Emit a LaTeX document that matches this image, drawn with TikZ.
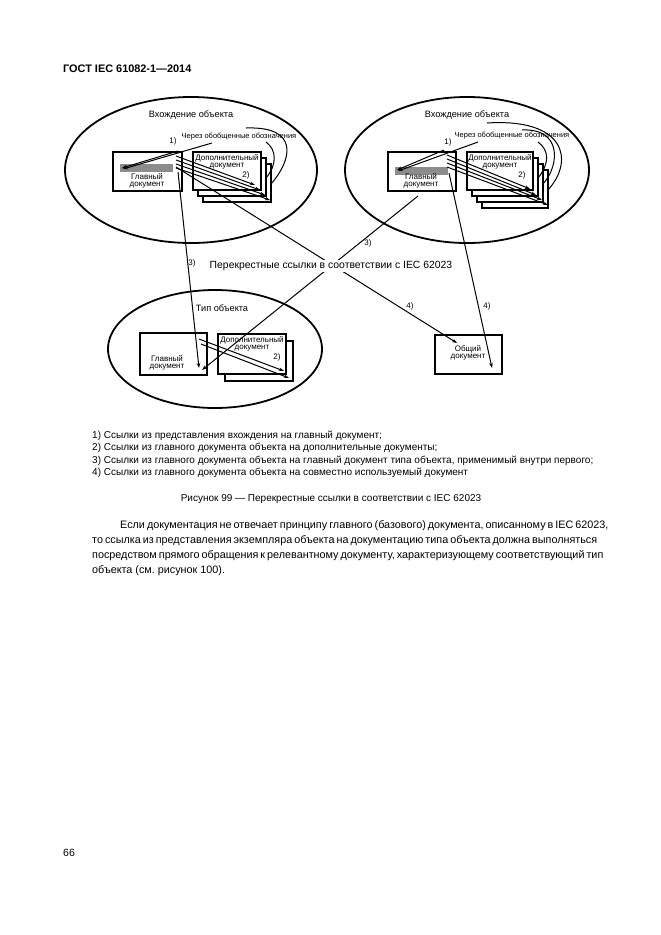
\documentclass[tikz,border=0pt]{standalone}
\usepackage{fontspec}
\setmainfont{Liberation Sans}
\usetikzlibrary{arrows.meta,shapes.geometric}
\frenchspacing
\begin{document}
\frenchspacing
\begin{tikzpicture}[x=1pt,y=-1pt,
  ell/.style={draw, ellipse, line width=1.8pt, inner sep=0pt},
  docbox/.style={draw, fill=white, line width=1.4pt},
  bar/.style={fill=black!45},
  lnk/.style={line width=1pt},
  arr/.style={lnk,-{Stealth[length=5pt,width=3.5pt]}},
  crv/.style={line width=1pt},
  lbl/.style={font=\fontsize{8}{8.5}\selectfont, inner sep=0pt, align=center},
  tlbl/.style={font=\fontsize{9.2}{10}\selectfont, inner sep=0pt},
  txt/.style={inner sep=0pt, anchor=base west},
]
\useasboundingbox (0,0) rectangle (661,935);

% header
\node[txt, font=\bfseries\fontsize{10.9}{12}\selectfont] (hdr) at (63,72) {ГОСТ IEC 61082-1—2014};

% ellipses
\node[ell, minimum width=252pt, minimum height=146pt] (E1) at (191,170) {};
\node[ell, minimum width=244pt, minimum height=146pt] (E2) at (467,170) {};
\node[ell, minimum width=214pt, minimum height=118pt] (E3) at (215,349) {};

\node[tlbl] (occ1) at (191,115) {Вхождение объекта};
\node[tlbl] (occ2) at (467,115) {Вхождение объекта};
\node[tlbl] (typ) at (222,308) {Тип объекта};

% ---------- left top group
\foreach \k in {2,1} {
  \draw[docbox] ({193+5*\k},{152+6*\k}) rectangle ({261+5*\k},{190+6*\k});
}
\node[docbox, minimum width=68pt, minimum height=38pt, inner sep=0pt] (LA) at (227,171) {};
\node[lbl, anchor=north] (LAt) at (227,154) {Дополнительный\\[-1pt]документ};
\node[docbox, minimum width=69pt, minimum height=39pt, inner sep=0pt] (LM) at (147.5,171.5) {};
\fill[bar] (120,164) rectangle (173,172);
\node[lbl] (LMt) at (147,181) {Главный\\[-1.5pt]документ};

\node[font=\fontsize{7.5}{8}\selectfont, inner sep=0pt] (Lc) at (239,137) {Через обобщенные обозначения};
\node[lbl] (L1) at (173,141) {1)};
\node[lbl] (L2) at (246,175) {2)};

% curves to back pages
\draw[crv] (266,142) .. controls (277,150) and (277,165) .. (266,178);
\draw[crv] (246,128) .. controls (300,126) and (292,160) .. (271,184);

% 1) arrows
\coordinate (LMbar) at (122,168);
\draw[arr] (178,151) -- (LMbar);
\draw[arr] (212,143) -- ([xshift=1pt,yshift=-1pt]LMbar);
% 2) arrows
\foreach \i/\ex/\ey in {0/255/185,1/260/190,2/265/195,3/270/200} {
  \draw[arr] (176,{156+4*\i}) -- (\ex,\ey);
}

% ---------- right top group
\foreach \k in {3,2,1} {
  \draw[docbox] ({467+5*\k},{152+6*\k}) rectangle ({533+5*\k},{190+6*\k});
}
\node[docbox, minimum width=66pt, minimum height=38pt, inner sep=0pt] (RA) at (500,171) {};
\node[lbl, anchor=north] (RAt) at (500,154) {Дополнительный\\[-1pt]документ};
\node[docbox, minimum width=68pt, minimum height=39pt, inner sep=0pt] (RM) at (422,171.5) {};
\fill[bar] (395,167) rectangle (448,175);
\node[lbl] (RMt) at (421,181) {Главный\\[-1.5pt]документ};

\node[font=\fontsize{7.5}{8}\selectfont, inner sep=0pt] (Rc) at (512,136) {Через обобщенные обозначения};
\node[lbl] (R1) at (448,142) {1)};
\node[lbl] (R2) at (522,175) {2)};

\draw[crv] (538,142) .. controls (549,150) and (550,163) .. (538,178);
\draw[crv] (522,130) .. controls (562,128) and (560,165) .. (543,184);
\draw[crv] (487,123) .. controls (565,118) and (575,160) .. (548,190);

\coordinate (RMbar) at (397,170);
\draw[arr] (444,150) -- (RMbar);
\draw[arr] (478,142) -- ([xshift=1pt,yshift=-1pt]RMbar);
\foreach \i/\ex/\ey in {0/530/189,1/536/195,2/542/200,3/548/205} {
  \draw[arr] (447,{155+4*\i}) -- (\ex,\ey);
}

% ---------- bottom type group
\draw[docbox] (225,341) rectangle (293,381);
\node[docbox, minimum width=68pt, minimum height=40pt, inner sep=0pt] (BA) at (252,354) {};
\node[lbl, anchor=north] (BAt) at (252,336) {Дополнительный\\[-1pt]документ};
\node[lbl] (B2) at (277,357) {2)};
\node[docbox, minimum width=67pt, minimum height=42pt, inner sep=0pt] (BM) at (173.5,354) {};
\node[lbl] (BMt) at (167,363) {Главный\\[-1.5pt]документ};
\coordinate (BMin) at (199,368);
\draw[arr] (199,339) -- (284,371);
\draw[arr] (201,344) -- (289,378);

% common document
\node[docbox, minimum width=67pt, minimum height=39pt, inner sep=0pt] (CD) at (468.5,354.5) {};
\node[lbl] (CDt) at (468,353) {Общий\\[-1.5pt]документ};
\coordinate (CDin) at (492,368);

% ---------- cross references
\draw[arr] (178,172) -- (BMin);
\draw[arr] (418,196) -- ([xshift=3pt,yshift=-2pt]BMin);
\draw[arr] (176,167) -- (457,343);
\draw[arr] (449,173) -- (CDin);

\node[fill=white, inner sep=1pt, font=\fontsize{10.4}{11}\selectfont] (X) at (331,266) {Перекрестные ссылки в соответствии с IEC 62023};
\node[lbl] (l3a) at (192,263) {3)};
\node[lbl] (l3b) at (368,243) {3)};
\node[lbl] (l4a) at (410,306) {4)};
\node[lbl] (l4b) at (487,306) {4)};

% ---------- footnotes
\begin{scope}[every node/.style={txt, font=\fontsize{10}{11}\selectfont}]
\node (f1) at (92,438.5) {1) Ссылки из представления вхождения на главный документ;};
\node (f2) at (92,450.9) {2) Ссылки из главного документа объекта на дополнительные документы;};
\node (f3) at (92,463.3) {3) Ссылки из главного документа объекта на главный документ типа объекта, применимый внутри первого;};
\node (f4) at (92,475.7) {4) Ссылки из главного документа объекта на совместно используемый документ};
\end{scope}
\node[inner sep=0pt, anchor=base, font=\fontsize{10}{11}\selectfont] (cap) at (331,501.5) {Рисунок 99 — Перекрестные ссылки в соответствии с IEC 62023};

% ---------- paragraph
\begin{scope}[every node/.style={txt, font=\fontsize{10.8}{13}\selectfont}]
\node (p1) at (120,528) {\hbox to 477pt{Если документация не отвечает принципу главного (базового) документа, описанному в IEC 62023,}};
\node (p2) at (92,543) {\hbox to 505pt{то ссылка из представления экземпляра объекта на документацию типа объекта должна выполняться}};
\node (p3) at (92,558) {\hbox to 505pt{посредством прямого обращения к релевантному документу, характеризующему соответствующий тип}};
\node (p4) at (92,573) {объекта (см. рисунок 100).};
\end{scope}

\node[txt, font=\fontsize{10.5}{12}\selectfont] (pg) at (63,856) {66};
\end{tikzpicture}
\end{document}
